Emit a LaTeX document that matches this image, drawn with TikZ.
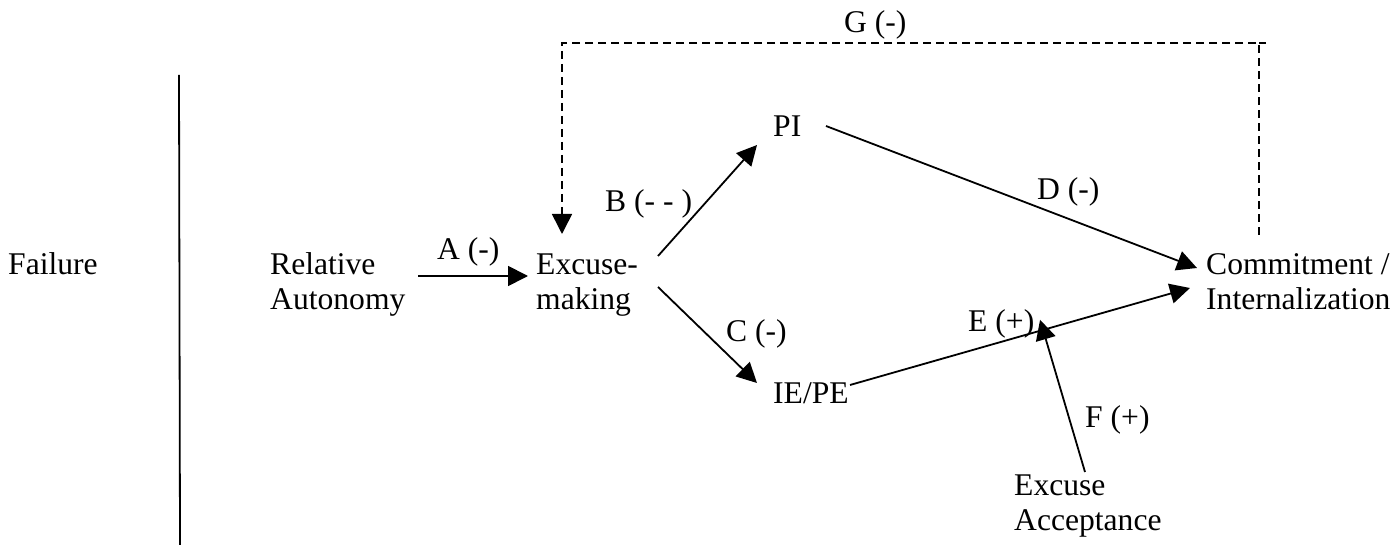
\documentclass[tikz,border=0pt]{standalone}
\usepackage{fontspec}
\setmainfont{Liberation Serif}
\usetikzlibrary{arrows.meta,calc}
\begin{document}
\begin{tikzpicture}[x=1pt,y=-1pt,
  txt/.style={inner sep=0pt, anchor=base west, align=left, font=\fontsize{31.6}{35}\selectfont},
  arr/.style={line width=1.8pt, -{Triangle[length=20pt,width=20pt]}},
  plain/.style={line width=1.8pt},
  dsh/.style={line width=1.6pt, dash pattern=on 8pt off 5pt}]
\useasboundingbox (0,0) rectangle (1393,545);
% nodes (base west = baseline of the last line)
\node[txt] (fail) at (8,275) {Failure};
\node[txt] (ra) at (270,310) {Relative\\Autonomy};
\node[txt] (em) at (536,310) {Excuse-\\making};
\node[txt] (pi) at (773,137) {PI};
\node[txt] (iepe) at (773,403) {IE/PE};
\node[txt] (ci) at (1206,310) {Commitment /\\Internalization};
\node[txt] (ea) at (1014,530) {Excuse\\Acceptance};
% labels
\node[txt] (la) at (437,260) {A (-)};
\node[txt] (lb) at (605,212) {B (- - )};
\node[txt] (lc) at (726,342) {C (-)};
\node[txt] (ld) at (1037,200) {D (-)};
\node[txt] (le) at (968,332) {E (+)};
\node[txt] (lf) at (1085,428) {F (+)};
\node[txt] (lg) at (844,33) {G (-)};
% divider
\coordinate (vtop) at (179,75);
\coordinate (vbot) at (180,545);
\draw[plain] (vtop) -- (vbot);
% connectors
\draw[arr] ([shift={(148,-34)}]ra.base west) -- ([shift={(-8,-34)}]em.base west);
\draw[arr] ([shift={(122,-54)}]em.base west) -- ([shift={(-16,8)}]pi.base west);
\draw[arr] ([shift={(122,-23)}]em.base west) -- ([shift={(-16,-20)}]iepe.base west);
\draw[arr] ([shift={(53,-11)}]pi.base west) -- ([shift={(-9,-42)}]ci.base west);
\draw[arr] ([shift={(77,-18)}]iepe.base west) -- coordinate[pos=0.559] (eF) ([shift={(-16,-22)}]ci.base west);
\draw[arr] ([shift={(71,-58)}]ea.base west) -- ([yshift=11]eF);
% feedback G
\coordinate (gs) at ([shift={(53,-75)}]ci.base west);
\coordinate (gy) at (0,43);
\draw[dsh] ([xshift=7]gs |- gy) -- (gs |- gy);
\draw[dsh,-{Triangle[length=20pt,width=20pt]}] (gs) -- (gs |- gy) -| ([shift={(26,-76)}]em.base west);
\end{tikzpicture}
\end{document}
